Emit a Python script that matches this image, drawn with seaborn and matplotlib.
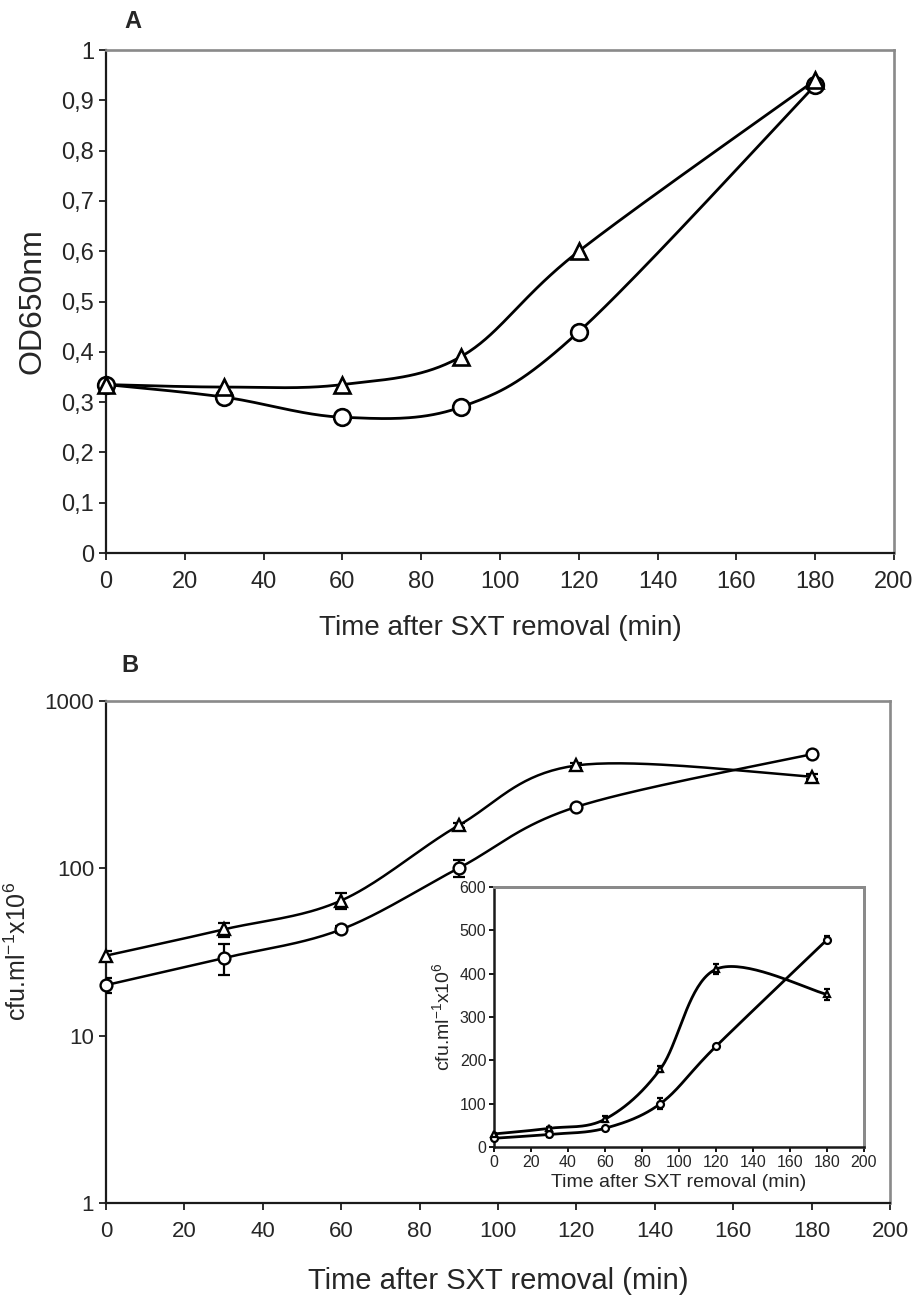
import numpy as np
import pandas as pd
import matplotlib
matplotlib.use("Agg")
import matplotlib.pyplot as plt
import seaborn as sns
from matplotlib import font_manager

# -----------------------------------------------
# Data
# -----------------------------------------------
time_min = [0, 30, 60, 90, 120, 180]

# Panel A: optical density
od_circle = [0.335, 0.31, 0.27, 0.29, 0.44, 0.93]
od_triangle = [0.335, 0.33, 0.335, 0.39, 0.60, 0.94]

# Panel B (and inset): viable counts, cfu/ml x10^6
cfu_circle = [20, 29, 43, 100, 232, 478]
cfu_circle_err = [2, 6, 2, 12, 4, 8]
cfu_triangle = [30, 43, 64, 180, 410, 352]
cfu_triangle_err = [2, 4, 7, 6, 12, 13]

x_ticks = [0, 20, 40, 60, 80, 100, 120, 140, 160, 180, 200]
od_ticks = [0, 0.1, 0.2, 0.3, 0.4, 0.5, 0.6, 0.7, 0.8, 0.9, 1]
od_tick_labels = ["0", "0,1", "0,2", "0,3", "0,4", "0,5", "0,6", "0,7", "0,8", "0,9", "1"]
log_ticks = [1, 10, 100, 1000]
inset_ticks = [0, 100, 200, 300, 400, 500, 600]

x_label = "Time after SXT removal (min)"
cfu_label = "cfu.ml$^{-1}$x10$^{6}$"

# -----------------------------------------------
# Style
# -----------------------------------------------
sns.set_style("ticks")
installed = {f.name for f in font_manager.fontManager.ttflist}
regular = "Liberation Sans" if "Liberation Sans" in installed else "DejaVu Sans"
narrow = "Liberation Sans Narrow" if "Liberation Sans Narrow" in installed else regular
plt.rcParams["font.family"] = [regular, "DejaVu Sans"]
plt.rcParams["mathtext.fontset"] = "custom"
plt.rcParams["mathtext.rm"] = regular
plt.rcParams["mathtext.it"] = regular

GRAY = "#8a8a8a"
DARK = "#1a1a1a"


def smooth(x, y, n=40):
    # Excel-like smoothed line (Catmull-Rom as cubic Bezier)
    x = np.asarray(x, float)
    y = np.asarray(y, float)
    xs, ys = [], []
    t = np.linspace(0, 1, n)
    for i in range(len(x) - 1):
        i0 = max(i - 1, 0)
        i3 = min(i + 2, len(x) - 1)
        p0 = np.array([x[i], y[i]])
        p3 = np.array([x[i + 1], y[i + 1]])
        c1 = p0 + (np.array([x[i + 1], y[i + 1]]) - np.array([x[i0], y[i0]])) / 6
        c2 = p3 - (np.array([x[i3], y[i3]]) - np.array([x[i], y[i]])) / 6
        b = ((1 - t) ** 3)[:, None] * p0 + (3 * (1 - t) ** 2 * t)[:, None] * c1 \
            + (3 * (1 - t) * t ** 2)[:, None] * c2 + (t ** 3)[:, None] * p3
        xs.extend(b[:, 0])
        ys.extend(b[:, 1])
    return np.array(xs), np.array(ys)


def frame(ax, lw):
    for side in ["left", "bottom"]:
        ax.spines[side].set_color(DARK)
        ax.spines[side].set_linewidth(lw)
    for side in ["top", "right"]:
        ax.spines[side].set_visible(True)
        ax.spines[side].set_color(GRAY)
        ax.spines[side].set_linewidth(lw * 1.2)
    ax.tick_params(direction="out", color=DARK, width=lw * 0.8)


fig = plt.figure(figsize=(9.19, 12.97), dpi=100)

# -----------------------------------------------
# Panel A
# -----------------------------------------------
axA = fig.add_axes([0.1153, 0.5736, 0.8575, 0.3878])
for vals, mk in [(od_circle, "o"), (od_triangle, "^")]:
    sx, sy = smooth(time_min, vals)
    sns.lineplot(x=sx, y=sy, ax=axA, color="black", lw=2.0, sort=False, estimator=None)
    axA.plot(time_min, vals, linestyle="none", marker=mk, ms=12, mfc="white",
             mec="black", mew=1.9, zorder=5, clip_on=False)
axA.set_xlim(0, 200)
axA.set_ylim(0, 1)
axA.set_xticks(x_ticks)
axA.set_yticks(od_ticks)
axA.set_yticklabels(od_tick_labels)
axA.tick_params(labelsize=17, length=5)
axA.tick_params(axis="x", pad=8)
axA.set_xlabel(x_label, fontsize=20, labelpad=16)
axA.set_ylabel("OD650nm", fontsize=23, labelpad=10)
frame(axA, 1.6)

# -----------------------------------------------
# Panel B (log scale)
# -----------------------------------------------
axB = fig.add_axes([0.1153, 0.0725, 0.8531, 0.3873])
for vals, err, mk in [(cfu_circle, cfu_circle_err, "o"), (cfu_triangle, cfu_triangle_err, "^")]:
    sx, sy = smooth(time_min, np.log10(vals))
    sns.lineplot(x=sx, y=10 ** sy, ax=axB, color="black", lw=1.8, sort=False, estimator=None)
    axB.errorbar(time_min, vals, yerr=err, fmt="none", ecolor="black", elinewidth=1.6,
                 capsize=4, capthick=1.6, zorder=4)
    axB.plot(time_min, vals, linestyle="none", marker=mk, ms=8.5, mfc="white",
             mec="black", mew=1.7, zorder=5, clip_on=False)
axB.set_yscale("log")
axB.set_xlim(0, 200)
axB.set_ylim(1, 1000)
axB.set_xticks(x_ticks)
axB.set_yticks(log_ticks)
axB.set_yticklabels([str(v) for v in log_ticks])
axB.yaxis.set_minor_locator(matplotlib.ticker.NullLocator())
axB.tick_params(labelsize=16, length=5)
axB.tick_params(axis="x", pad=8)
for lab in axB.get_xticklabels() + axB.get_yticklabels():
    lab.set_family([narrow, regular])
axB.set_xlabel(x_label, fontsize=21, labelpad=18, family=[narrow, regular])
axB.set_ylabel(cfu_label, fontsize=18)
axB.yaxis.set_label_coords(-0.095, 0.5)
frame(axB, 1.6)

# -----------------------------------------------
# Inset (linear scale)
# -----------------------------------------------
axI = fig.add_axes([0.5375, 0.1157, 0.4026, 0.2005])
for vals, err, mk in [(cfu_circle, cfu_circle_err, "o"), (cfu_triangle, cfu_triangle_err, "^")]:
    sx, sy = smooth(time_min, vals)
    sns.lineplot(x=sx, y=sy, ax=axI, color="black", lw=2.0, sort=False, estimator=None)
    axI.errorbar(time_min, vals, yerr=err, fmt="none", ecolor="black", elinewidth=1.6,
                 capsize=2.5, capthick=1.6, zorder=4)
    axI.plot(time_min, vals, linestyle="none", marker=mk, ms=5, mfc="white",
             mec="black", mew=1.6, zorder=5, clip_on=False)
axI.set_xlim(0, 200)
axI.set_ylim(0, 600)
axI.set_xticks(x_ticks)
axI.set_yticks(inset_ticks)
axI.tick_params(labelsize=11.5, length=3.5, pad=2)
for lab in axI.get_xticklabels() + axI.get_yticklabels():
    lab.set_family([narrow, regular])
axI.set_xlabel(x_label, fontsize=14, labelpad=3, family=[narrow, regular])
axI.set_ylabel(cfu_label, fontsize=14, labelpad=5)
frame(axI, 1.8)

# panel letters
fig.text(133 / 919, 1 - 22 / 1297, "A", fontsize=17, fontweight="bold", ha="center", va="center")
fig.text(130 / 919, 1 - 665 / 1297, "B", fontsize=17, fontweight="bold", ha="center", va="center")

fig.savefig("out.png", dpi=100)
